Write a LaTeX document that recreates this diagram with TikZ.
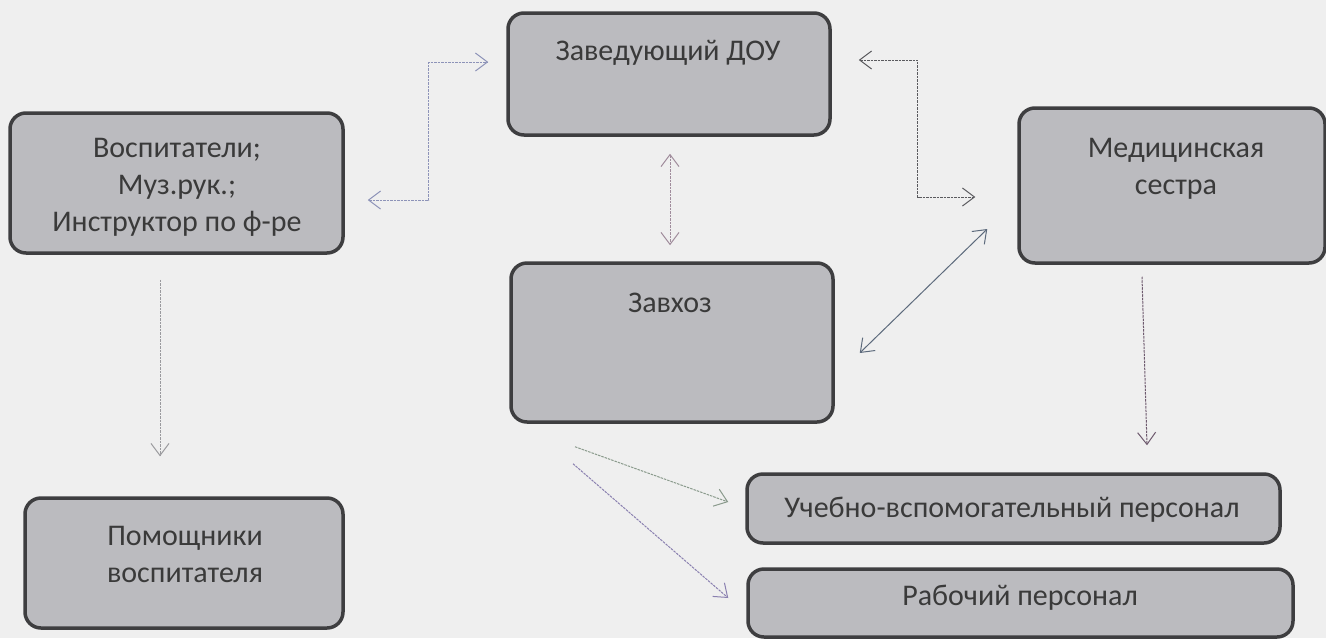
\documentclass[tikz,border=0pt]{standalone}
\usepackage{fontspec}
\setmainfont{Carlito}
\usetikzlibrary{arrows.meta,calc}
\definecolor{bg}{HTML}{EFEFEF}
\definecolor{boxline}{HTML}{3E3E40}
\definecolor{boxfill}{HTML}{BBBBBF}
\definecolor{txt}{HTML}{3A3A3A}
\definecolor{cleft}{HTML}{8D93B8}
\definecolor{cright}{HTML}{5A5A5E}
\definecolor{ccent}{HTML}{A08C9C}
\definecolor{cdiag}{HTML}{5D6A7C}
\definecolor{cvosp}{HTML}{9A9A9E}
\definecolor{cmed}{HTML}{6E5A6E}
\definecolor{cbot1}{HTML}{8A9A8C}
\definecolor{cbot2}{HTML}{8A80B0}
\begin{document}
\begin{tikzpicture}[x=1pt,y=-1pt,
  box/.style={draw=boxline, line width=3.5pt, rounded corners=16pt, fill=boxfill, inner sep=0pt},
  lbl/.style={text=txt, font=\fontsize{30}{37}\selectfont, align=center, inner sep=0pt},
  conn/.style={line width=1pt, dash pattern=on 2.5pt off 1pt},
  uniarr/.style={arrows={-Straight Barb[length=12pt,width=18pt]}},
  biarr/.style={arrows={Straight Barb[length=12pt,width=18pt]-Straight Barb[length=12pt,width=18pt]}},
]
\fill[bg] (0,0) rectangle (1326,638);
\useasboundingbox (0,0) rectangle (1326,638);

% boxes
\node[box, minimum width=322pt, minimum height=122pt] (zav) at (669,74) {};
\node[box, minimum width=333pt, minimum height=140pt] (vosp) at (176.5,183) {};
\node[box, minimum width=318pt, minimum height=130pt] (pom) at (184,563) {};
\node[box, minimum width=306pt, minimum height=155pt] (med) at (1172,185.5) {};
\node[box, minimum width=322pt, minimum height=159pt] (zavhoz) at (672,342.5) {};
\node[box, minimum width=533pt, minimum height=69pt] (ucheb) at (1013.5,508.5) {};
\node[box, minimum width=545pt, minimum height=68pt] (rab) at (1020.5,603) {};

% labels
\node[lbl] (zavT) at (668,53) {Заведующий ДОУ};
\node[lbl] (vospT) at (177,187) {Воспитатели;\\Муз.рук.;\\Инструктор по ф-ре};
\node[lbl] (pomT) at (185,554) {Помощники\\воспитателя};
\node[lbl] (medT) at (1176,169) {Медицинская\\сестра};
\node[lbl] (zavhozT) at (670,303) {Завхоз};
\node[lbl] (uchebT) at (1012,510) {Учебно-вспомогательный персонал};
\node[lbl] (rabT) at (1020,598) {Рабочий персонал};

% connector end points
\coordinate (p1) at ($(vosp.east)+(23,17)$);
\coordinate (p2) at ($(zav.west)+(-18,-12)$);
\coordinate (k1) at ($(vosp.east)+(84,0)$);
\coordinate (p3) at ($(zav.east)+(27,-14)$);
\coordinate (p4) at ($(med.west)+(-42,11.5)$);
\coordinate (k2) at ($(zav.east)+(86,0)$);
\coordinate (p5) at ($(zav.south)+(1,17)$);
\coordinate (p6) at ($(zavhoz.north)+(-2,-16)$);
\coordinate (p7) at ($(zavhoz.east)+(25,10.5)$);
\coordinate (p8) at ($(med.west)+(-30,43.5)$);
\coordinate (p9) at ($(vosp.south)+(-16.5,25)$);
\coordinate (p10) at ($(pom.north)+(-24,-40)$);
\coordinate (p11) at ($(med.south)+(-30,12)$);
\coordinate (p12) at ($(ucheb.north)+(133.5,-27)$);
\coordinate (p13) at ($(zavhoz.south)+(-97,23)$);
\coordinate (p14) at ($(ucheb.west)+(-17,-6.5)$);
\coordinate (p15) at ($(zavhoz.south)+(-99,40)$);
\coordinate (p16) at ($(rab.west)+(-18,-5)$);

% connectors
\draw[conn,biarr,draw=cleft] (p1) -- (p1 -| k1) |- (p2);
\draw[conn,biarr,draw=cright] (p3) -- (p3 -| k2) |- (p4);
\draw[conn,biarr,draw=ccent] (p5) -- (p6);
\draw[line width=1pt,biarr,draw=cdiag] (p7) -- (p8);
\draw[conn,uniarr,draw=cvosp] (p9) -- (p10);
\draw[conn,uniarr,draw=cmed] (p11) -- (p12);
\draw[conn,uniarr,draw=cbot1] (p13) -- (p14);
\draw[conn,uniarr,draw=cbot2] (p15) -- (p16);
\end{tikzpicture}
\end{document}
